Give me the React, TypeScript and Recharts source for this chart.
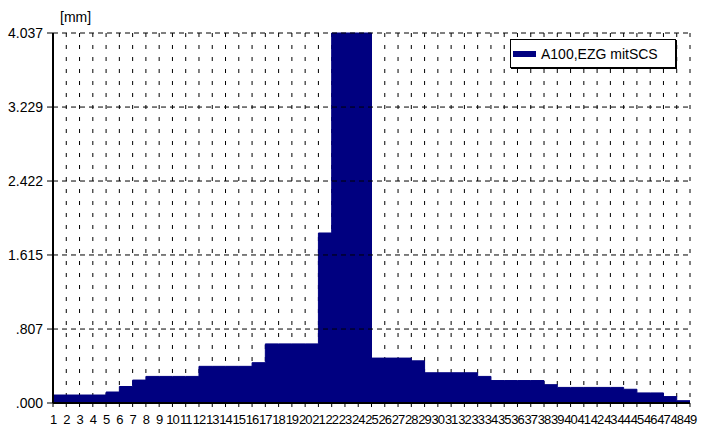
import React from "react";
import { AreaChart, Area, XAxis, YAxis, CartesianGrid, Legend, ReferenceLine } from "recharts";

const categories = [
  "1", "2", "3", "4", "5", "6", "7", "8", "9", "10",
  "11", "12", "13", "14", "15", "16", "17", "18", "19", "20",
  "21", "22", "23", "24", "25", "26", "27", "28", "29", "30",
  "31", "32", "33", "34", "35", "36", "37", "38", "39", "40",
  "41", "42", "43", "44", "45", "46", "47", "48", "49",
];

const rainfall = [
  0.087, 0.087, 0.087, 0.087, 0.12, 0.18, 0.25, 0.29, 0.29, 0.29,
  0.29, 0.40, 0.40, 0.40, 0.40, 0.44, 0.645, 0.645, 0.645, 0.645,
  1.855, 4.037, 4.037, 4.037, 0.49, 0.49, 0.49, 0.46, 0.33, 0.33,
  0.33, 0.33, 0.29, 0.245, 0.245, 0.245, 0.245, 0.20, 0.17, 0.17,
  0.17, 0.17, 0.17, 0.15, 0.11, 0.11, 0.07, 0.025, 0.025,
];

const yTicks = [0, 0.807, 1.615, 2.422, 3.229, 4.037];
const yTickLabels = [".000", ".807", "1.615", "2.422", "3.229", "4.037"];
const seriesName = "A100,EZG mitSCS";
const unitLabel = "[mm]";

const data = categories.map((c, i) => ({ cat: c, value: rainfall[i] }));

const FONT = '"Liberation Sans", Arial, sans-serif';
const NAVY = "#000080";

const renderLegend = (props: any) => {
  const payload = props.payload || [];
  return (
    <div
      style={{
        border: "1px solid #000",
        background: "#fff",
        width: 166,
        height: 29,
        boxSizing: "border-box",
        display: "flex",
        alignItems: "center",
        fontFamily: FONT,
        fontSize: 14,
        color: "#000",
        boxShadow: "1px 1px 0 #000",
      }}
    >
      {payload.map((p: any, i: number) => (
        <div key={i} style={{ display: "flex", alignItems: "center" }}>
          <span
            style={{
              display: "inline-block",
              width: 23,
              height: 6,
              background: NAVY,
              marginLeft: 2,
              marginRight: 5,
            }}
          />
          <span style={{ whiteSpace: "nowrap" }}>{p.value}</span>
        </div>
      ))}
    </div>
  );
};

export default function App() {
  return (
    <div style={{ position: "absolute", left: 0, top: 0, width: 709, height: 433, background: "#fff" }}>
      <div
        style={{
          position: "absolute",
          left: 60,
          top: 9,
          fontFamily: FONT,
          fontSize: 14,
          color: "#000",
          lineHeight: "16px",
        }}
      >
        {unitLabel}
      </div>
      <AreaChart
        width={709}
        height={433}
        data={data}
        margin={{ top: 33, right: 19, bottom: 0, left: 0 }}
      >
        <CartesianGrid horizontal={false} vertical={true} stroke="#000" strokeDasharray="4 8" />
        <XAxis
          dataKey="cat"
          interval={0}
          height={30}
          tickSize={4}
          tickMargin={8}
          axisLine={{ stroke: "#000", strokeWidth: 2 }}
          tickLine={{ stroke: "#000" }}
          tick={{ fill: "#000", fontSize: 13, fontFamily: FONT, letterSpacing: -1 }}
        />
        <YAxis
          width={53}
          domain={[0, 4.037]}
          ticks={yTicks}
          interval={0}
          tickSize={6}
          tickMargin={4}
          axisLine={{ stroke: "#000", strokeWidth: 2 }}
          tickLine={{ stroke: "#000" }}
          tick={{ fill: "#000", fontSize: 14, fontFamily: FONT }}
          tickFormatter={(v: number) => yTickLabels[yTicks.indexOf(v)] ?? String(v)}
        />
        <Area
          type="stepAfter"
          dataKey="value"
          name={seriesName}
          fill={NAVY}
          fillOpacity={1}
          stroke={NAVY}
          strokeWidth={1}
          isAnimationActive={false}
        />
        {yTicks
          .filter((t) => t > 0)
          .map((t) => (
            <ReferenceLine key={t} y={t} stroke="#000" strokeDasharray="5 4" />
          ))}
        <Legend
          layout="horizontal"
          verticalAlign="middle"
          align="center"
          content={renderLegend}
          wrapperStyle={{ position: "absolute", left: 510, top: 39, width: 168 }}
        />
      </AreaChart>
    </div>
  );
}
